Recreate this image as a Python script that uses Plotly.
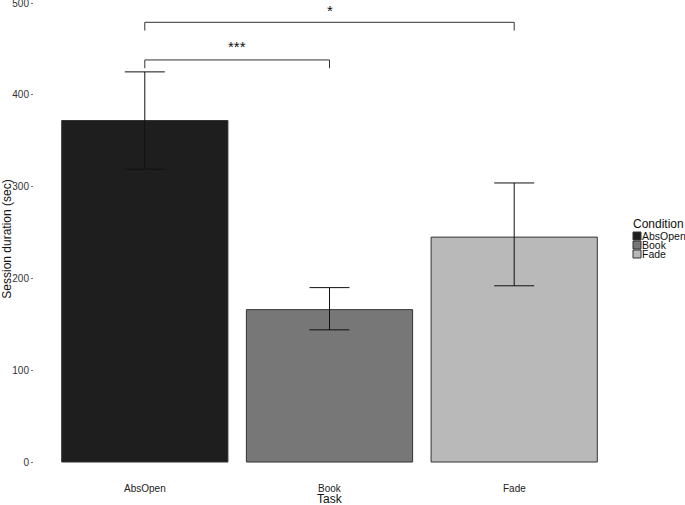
import plotly.graph_objects as go

# Data
tasks = ["AbsOpen", "Book", "Fade"]
durations = [372, 166, 245]
err_upper = [425, 190, 304]
err_lower = [319, 144, 192]
colors = ["#1e1e1e", "#777777", "#b9b9b9"]

y_ticks = [0, 100, 200, 300, 400, 500]
y_tick_labels = ["0", "100", "200", "300", "400", "500"]

# significance brackets: (from category index, to category index, y level, label)
sig_from = [0, 0]
sig_to = [1, 2]
sig_y = [438, 479]
sig_drop = [9, 9]
sig_labels = ["***", "*"]
sig_label_y = [453, 492]

legend_title = "Condition"
x_title = "Task"
y_title = "Session duration (sec)"

xpos = [i + 1 for i in range(len(tasks))]

W, H = 685, 505
ML, MR, MT, MB = 34, 60, 0, 27
PW, PH = W - ML - MR, H - MT - MB


def px_x(p):
    return (p - ML) / PW


def px_y(p):
    return 1 - (p - MT) / PH


fig = go.Figure()
fig.add_trace(go.Bar(
    x=xpos, y=durations, width=0.9,
    marker=dict(color=colors, line=dict(color="#333333", width=1)),
    error_y=dict(type="data", symmetric=False,
                 array=[u - d for u, d in zip(err_upper, durations)],
                 arrayminus=[d - l for d, l in zip(durations, err_lower)],
                 color="#111111", thickness=1, width=20),
    showlegend=False,
))

shapes = []
annotations = []
for f, t, y, dr, lab, ly in zip(sig_from, sig_to, sig_y, sig_drop, sig_labels, sig_label_y):
    x0, x1 = xpos[f], xpos[t]
    shapes.append(dict(type="path", xref="x", yref="y",
                       path=f"M {x0} {y - dr} L {x0} {y} L {x1} {y} L {x1} {y - dr}",
                       line=dict(color="#333333", width=1)))
    annotations.append(dict(x=(x0 + x1) / 2, y=ly, xref="x", yref="y", text=lab,
                            showarrow=False, font=dict(size=15, color="#111111")))

# x tick labels and axis title
for x, lab in zip(xpos, tasks):
    annotations.append(dict(x=x, y=px_y(488), xref="x", yref="paper", yanchor="middle",
                            text=lab, showarrow=False,
                            font=dict(size=10, color="#222222")))
annotations.append(dict(x=xpos[1], y=px_y(499), xref="x", yref="paper", yanchor="middle",
                        text=x_title, showarrow=False,
                        font=dict(size=12, color="#111111")))

# manual legend
annotations.append(dict(x=px_x(631), y=px_y(224), xref="paper", yref="paper",
                        xanchor="left", yanchor="middle", text=legend_title,
                        showarrow=False, font=dict(size=12, color="#111111")))
for i, (lab, c) in enumerate(zip(tasks, colors)):
    yc = 236 + i * 9
    shapes.append(dict(type="rect", xref="paper", yref="paper",
                       x0=px_x(633), x1=px_x(641), y0=px_y(yc - 4), y1=px_y(yc + 4),
                       fillcolor=c, line=dict(color="#333333", width=1)))
    annotations.append(dict(x=px_x(640), y=px_y(yc), xref="paper", yref="paper",
                            xanchor="left", yanchor="middle", text=lab,
                            showarrow=False, font=dict(size=10.5, color="#111111")))

fig.update_layout(
    width=W, height=H,
    margin=dict(l=ML, r=MR, t=MT, b=MB),
    paper_bgcolor="white", plot_bgcolor="white",
    font=dict(family="Liberation Sans, Arial, sans-serif", color="#222222"),
    shapes=shapes, annotations=annotations,
    xaxis=dict(range=[0.4, 3.6], showticklabels=False, showgrid=False, zeroline=False,
               showline=False, ticks="", automargin=False),
    yaxis=dict(range=[-17.4, 503.3], tickvals=y_ticks, ticktext=y_tick_labels,
               showgrid=False, zeroline=False, showline=False, ticks="outside",
               ticklen=2, tickcolor="#777777", tickfont=dict(size=10, color="#333333"),
               ticklabeloverflow="allow", automargin=False,
               title=dict(text=y_title, standoff=6, font=dict(size=12, color="#111111"))),
)

fig.write_html("out.html", config={"displayModeBar": False},
               post_script="document.body.style.margin='0';")
